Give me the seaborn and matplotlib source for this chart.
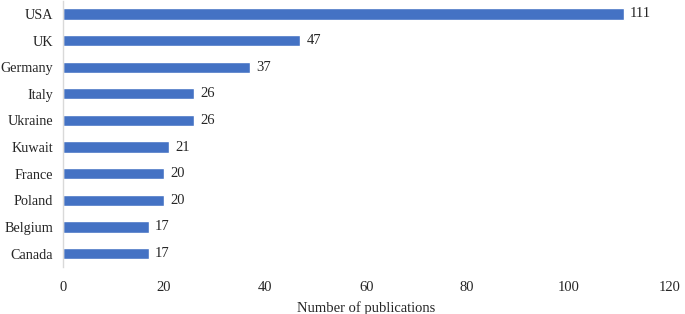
import matplotlib
matplotlib.use('Agg')
import matplotlib.pyplot as plt
import pandas as pd
import seaborn as sns

countries = ['USA', 'UK', 'Germany', 'Italy', 'Ukraine', 'Kuwait', 'France', 'Poland', 'Belgium', 'Canada']
publications = [111, 47, 37, 26, 26, 21, 20, 20, 17, 17]
x_ticks = [0, 20, 40, 60, 80, 100, 120]

df = pd.DataFrame({'country': countries, 'publications': publications})

sns.set_theme(style='white')
plt.rcParams['font.family'] = ['Liberation Serif', 'DejaVu Serif']

fig, ax = plt.subplots(figsize=(6.85, 3.14), dpi=100)
fig.subplots_adjust(left=0.092, right=0.977, top=0.998, bottom=0.15)

sns.barplot(data=df, x='publications', y='country', color='#4472C4', saturation=1,
            width=0.42, ax=ax)

for i, v in enumerate(publications):
    ax.text(v + 1.2, i, str(v), va='center', ha='left', fontsize=10.5, color='#262626')

ax.set_xlim(0, 120)
ax.set_xticks(x_ticks)
ax.set_xlabel('Number of publications', fontsize=10.5, color='#262626', labelpad=5)
ax.set_ylabel('')
ax.tick_params(axis='both', length=0, labelsize=10.5, labelcolor='#262626')
ax.tick_params(axis='x', pad=10)
ax.tick_params(axis='y', pad=7, labelsize=10.2)
for side in ['top', 'right', 'bottom']:
    ax.spines[side].set_visible(False)
ax.spines['left'].set_color('#D9D9D9')
ax.spines['left'].set_linewidth(1.0)

fig.savefig('out.png', dpi=100)
